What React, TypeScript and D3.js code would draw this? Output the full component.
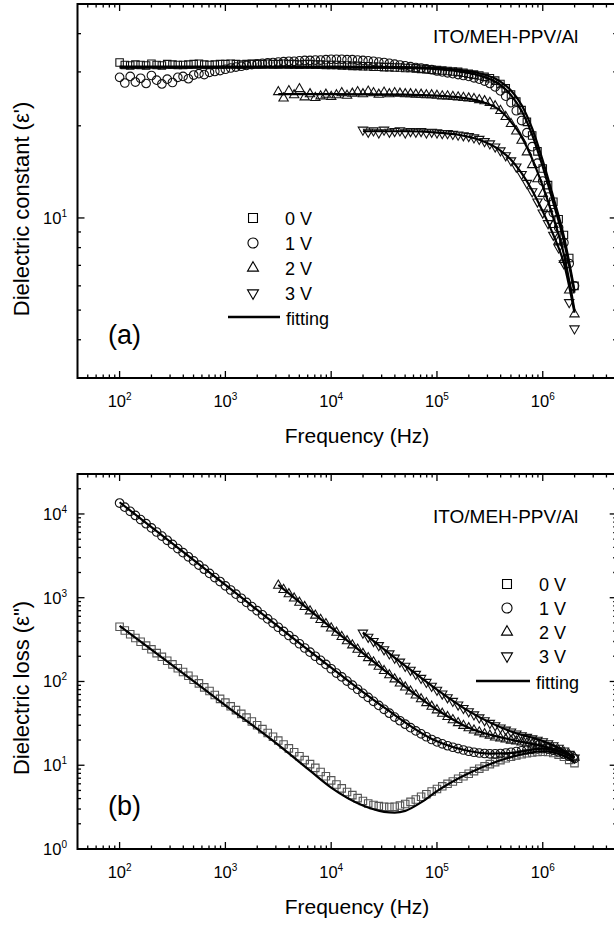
import React from 'react'
import * as d3 from 'd3'

// measurement frequencies (Hz), 20 points per decade
const freq = [
  100, 112, 126, 141, 158, 178, 200, 224, 251, 282, 316, 355, 398, 447, 501, 562, 631, 708, 794, 891,
  1000, 1122, 1259, 1413, 1585, 1778, 1995, 2239, 2512, 2818, 3162, 3548, 3981, 4467, 5012, 5623, 6310, 7079, 7943, 8913,
  10000, 11220, 12589, 14125, 15849, 17783, 19953, 22387, 25119, 28184, 31623, 35481, 39811, 44668, 50119, 56234, 63096, 70795, 79433, 89125,
  100000, 112202, 125893, 141254, 158489, 177828, 199526, 223872, 251189, 281838, 316228, 354813, 398107, 446684, 501187, 562341, 630957, 707946, 794328, 891251,
  1000000, 1122018, 1258925, 1412538, 1584893, 1778279, 1995262,
]
// 2 V data starts at freq[30], 3 V data at freq[46]
const start2V = 30
const start3V = 46

// (a) dielectric constant
const real0V = [
  32.2, 31.6, 31.5, 31.7, 31.6, 31.5, 31.9, 31.6, 31.5, 31.8, 31.7, 31.6, 31.6, 31.7, 31.8, 31.9, 31.7, 31.6, 31.7, 31.8,
  31.8, 31.9, 31.8, 31.7, 31.8, 31.9, 31.8, 31.8, 31.9, 31.8, 31.8, 31.9, 31.8, 31.8, 31.7, 31.8, 31.8, 31.7, 31.7, 31.6,
  31.6, 31.6, 31.5, 31.5, 31.4, 31.4, 31.3, 31.3, 31.2, 31.2, 31.1, 31.1, 31.0, 31.0, 30.9, 30.9, 30.8, 30.7, 30.6, 30.5,
  30.4, 30.3, 30.2, 30.1, 30.0, 29.8, 29.6, 29.4, 29.2, 28.9, 28.6, 28.1, 27.4, 26.5, 25.3, 24.0, 22.5, 20.6, 18.6, 16.5,
  14.5, 12.8, 11.3, 9.9, 8.8, 7.4, 6.0,
]
const real1V = [
  28.8, 27.6, 29.0, 27.8, 28.6, 27.5, 29.2, 28.2, 27.4, 28.4, 27.7, 28.8, 29.0, 28.5, 29.3, 29.6, 29.4, 29.9, 30.1, 30.3,
  30.6, 30.9, 31.1, 31.3, 31.5, 31.7, 31.9, 32.0, 32.1, 32.2, 32.3, 32.4, 32.5, 32.5, 32.6, 32.7, 32.7, 32.8, 32.8, 32.9,
  33.0, 33.0, 33.0, 32.9, 32.9, 32.8, 32.7, 32.6, 32.5, 32.3, 32.2, 32.0, 31.8, 31.6, 31.4, 31.2, 31.0, 30.9, 30.7, 30.5,
  30.2, 30.0, 29.8, 29.6, 29.4, 29.2, 29.0, 28.7, 28.4, 28.0, 27.5, 26.8, 26.0, 25.0, 23.8, 22.4, 20.8, 19.0, 17.1, 15.1,
  13.2, 11.7, 10.4, 9.3, 8.3, 7.1, 6.0,
]
const real2V = [
  25.8, 24.6, 26.0, 25.2, 26.4, 24.8, 25.4, 24.7, 25.0, 25.3,
  24.9, 25.2, 25.6, 25.1, 25.5, 25.8, 25.4, 25.9, 25.6, 25.3, 25.7, 25.4, 25.6, 25.5, 25.4, 25.4, 25.3, 25.3, 25.2, 25.2,
  25.1, 25.0, 25.0, 24.9, 24.8, 24.7, 24.6, 24.5, 24.3, 24.1, 23.8, 23.2, 22.4, 21.4, 20.3, 19.2, 17.9, 16.4, 14.9, 13.4,
  12.0, 10.7, 9.5, 8.4, 7.3, 5.8, 4.85,
]
const real3V = [
  19.4, 19.1, 19.3, 19.0, 19.4, 19.1, 19.2, 19.3, 19.0, 19.2, 19.1, 19.2, 19.0, 19.1,
  19.0, 18.9, 18.9, 18.8, 18.7, 18.6, 18.5, 18.3, 18.1, 17.8, 17.5, 17.1, 16.6, 16.0, 15.4, 14.7, 13.9, 13.0, 12.2, 11.3,
  10.4, 9.6, 8.8, 8.0, 7.1, 5.3, 4.35,
]

// (b) dielectric loss
const loss0V = [
  450, 406, 366, 330, 298, 268, 242, 218, 197, 177, 160, 144, 130, 117, 105, 95, 85, 77, 69, 62,
  56, 50.5, 45.5, 41, 37, 33.3, 30, 27, 24.3, 21.9, 19.7, 17.7, 15.9, 14.3, 12.8, 11.5, 10.3, 9.3, 8.3, 7.4,
  6.6, 5.9, 5.3, 4.8, 4.4, 4.05, 3.75, 3.5, 3.35, 3.25, 3.2, 3.18, 3.2, 3.3, 3.45, 3.65, 3.9, 4.2, 4.5, 4.85,
  5.2, 5.6, 6.0, 6.4, 6.9, 7.4, 7.9, 8.5, 9.1, 9.7, 10.3, 10.9, 11.5, 12.1, 12.6, 13.1, 13.5, 13.9, 14.2, 14.4,
  14.5, 14.4, 14.0, 13.4, 12.6, 11.6, 10.6,
]
const loss1V = [
  13500, 12050, 10750, 9600, 8570, 7650, 6820, 6090, 5440, 4850, 4330, 3860, 3450, 3080, 2750, 2450, 2190, 1950, 1740, 1560,
  1385, 1236, 1103, 985, 879, 784, 700, 625, 558, 498, 444, 396, 354, 316, 282, 251, 224, 200, 179, 160,
  142, 126, 113.5, 101, 90.4, 80.8, 72.2, 64.6, 57.9, 51.8, 46.5, 41.8, 37.6, 34.0, 30.9, 28.1, 25.7, 23.7, 21.9, 20.3,
  19.0, 18.0, 17.1, 16.4, 15.8, 15.2, 14.7, 14.3, 14.0, 13.8, 13.7, 13.7, 13.8, 14.0, 14.3, 14.6, 14.9, 15.2, 15.5, 15.7,
  15.8, 15.6, 15.1, 14.4, 13.6, 12.8, 12.0,
]
const loss2V = [
  1400, 1245, 1107, 984, 875, 778, 691, 615, 546, 486,
  432, 384, 341, 304, 271, 241, 214, 191, 170, 151, 134, 119.3, 106.5, 95.3, 85.2, 76.3, 68.5, 61.6, 55.5, 50.2,
  45.5, 41.4, 37.8, 34.7, 32.0, 29.7, 27.8, 26.1, 24.8, 23.6, 22.7, 21.6, 21.0, 20.4, 19.8, 19.3, 18.8, 18.3, 17.8, 17.3,
  16.8, 16.3, 15.7, 15.0, 14.2, 13.3, 12.4,
]
const loss3V = [
  381, 339.8, 302.8, 270, 241, 215.2, 191.4, 171.6, 153, 137.2, 122.5, 109.8, 98.3, 88.3,
  79.3, 71.4, 64.4, 58.3, 52.8, 48.0, 43.9, 40.3, 37.1, 34.3, 31.9, 29.9, 28.1, 26.5, 25.1, 23.8, 22.7, 21.7, 20.8, 20.0,
  19.2, 18.2, 17.2, 16.1, 14.9, 13.6, 12.3,
]

// fitting curves
const fitFreqA01 = [100, 1000, 10000, 50000, 100000, 158489, 251189, 398107, 501187, 630957, 794328, 1000000, 1258925, 1584893, 1995262]
const fitReal0V = [31.2, 31.2, 31.2, 31.1, 30.9, 30.5, 29.7, 27.9, 26.1, 23.4, 19.6, 15.4, 11.7, 8.7, 5.8]
const fitReal1V = [31.0, 31.0, 31.0, 30.9, 30.6, 30.1, 29.2, 27.2, 25.2, 22.4, 18.7, 14.7, 11.2, 8.4, 5.7]
const fitFreqA2 = [3162, 10000, 50000, 100000, 158489, 251189, 398107, 501187, 630957, 794328, 1000000, 1258925, 1584893, 1995262]
const fitReal2V = [25.4, 25.4, 25.3, 25.1, 24.8, 24.1, 22.4, 20.6, 18.4, 15.6, 12.7, 10.0, 7.6, 5.0]
const fitFreqA3 = [19953, 50000, 100000, 158489, 251189, 398107, 501187, 630957, 794328, 1000000, 1258925, 1584893, 1995262]
const fitReal3V = [19.2, 19.2, 19.0, 18.7, 18.0, 16.6, 15.5, 14.0, 12.3, 10.5, 8.8, 7.1, 4.9]

const fitFreqB0 = [100, 316, 1000, 3162, 6310, 10000, 19953, 31623, 39811, 50119, 70795, 100000, 199526, 501187, 1000000, 1496236, 1995262]
const fitLoss0V = [460, 156, 52, 17.5, 8.6, 5.4, 3.3, 2.78, 2.72, 2.85, 3.6, 4.9, 8.0, 12.5, 14.7, 13.3, 11.0]
const fitFreqB1 = [100, 1000, 10000, 31623, 100000, 199526, 316228, 501187, 1000000, 1496236, 1995262]
const fitLoss1V = [13800, 1420, 146, 49, 19.3, 14.8, 13.8, 14.0, 15.8, 14.3, 12.1]
const fitFreqB2 = [3162, 10000, 31623, 100000, 199526, 501187, 1000000, 1496236, 1995262]
const fitLoss2V = [1420, 440, 137, 46, 28, 20.2, 16.9, 14.8, 12.5]
const fitFreqB3 = [19953, 50119, 100000, 199526, 501187, 1000000, 1496236, 1995262]
const fitLoss3V = [385, 154, 80, 44.3, 25.3, 19.4, 15.5, 12.4]

const legendLabels = ['0 V', '1 V', '2 V', '3 V']
const xLabelExps = [2, 3, 4, 5, 6]

const FONT = 'Liberation Sans, Arial, Helvetica, sans-serif'
const plotLeft = 77.5
const plotRight = 616.7

const x = d3.scaleLog().domain([40, 5e6]).range([plotLeft, plotRight])

const markerTypes = [d3.symbolSquare, d3.symbolCircle, d3.symbolTriangle, d3.symbolTriangle]
const markerSizes = [56, 58, 38, 38]
const legendSizes = [80, 80, 52, 52]

function logTicks(lo, hi) {
  const out = []
  for (let e = Math.floor(Math.log10(lo)); e <= Math.ceil(Math.log10(hi)); e++) {
    for (let m = 1; m <= 9; m++) {
      const v = m * Math.pow(10, e)
      if (v > lo * 1.0001 && v < hi / 1.0001) out.push({ v, major: m === 1 })
    }
  }
  return out
}

function Marker({ cx, cy, i, size, stroke }) {
  const d = d3.symbol().type(markerTypes[i]).size(size)()
  const rot = i === 3 ? ' rotate(180)' : ''
  return <path d={d} transform={`translate(${cx},${cy})${rot}`} fill="none" stroke={stroke} strokeWidth={1.1} />
}

function Panel({ top, bottom, yDomain, yLabelExps, yTitle, yTitleY, tag, tagY, textY, data, fits, legend, markerStroke }) {
  const y = d3.scaleLog().domain(yDomain).range([bottom, top])
  const line = d3.line().x(d => x(d[0])).y(d => y(d[1])).curve(d3.curveMonotoneX)
  const xt = logTicks(40, 5e6)
  const yt = logTicks(yDomain[0], yDomain[1])
  return (
    <g>
      {/* data points */}
      {data.map((s, i) => (
        <g key={i}>
          {s.vals.map((v, j) => (
            <Marker key={j} cx={x(freq[s.start + j])} cy={y(v)} i={i} size={markerSizes[i]} stroke={markerStroke[i]} />
          ))}
        </g>
      ))}
      {/* fitting lines */}
      {fits.map((f, i) => (
        <path key={i} d={line(f.fr.map((fr, j) => [fr, f.vals[j]]))} fill="none" stroke="#000" strokeWidth={2.2} />
      ))}
      {/* frame */}
      <rect x={plotLeft} y={top} width={plotRight - plotLeft} height={bottom - top} fill="none" stroke="#000" strokeWidth={2} />
      {xt.map((t, i) => {
        const len = t.major ? 7 : 3.5
        return (
          <g key={i} stroke="#000" strokeWidth={1.3}>
            <line x1={x(t.v)} x2={x(t.v)} y1={bottom} y2={bottom - len} />
            <line x1={x(t.v)} x2={x(t.v)} y1={top} y2={top + len} />
          </g>
        )
      })}
      {yt.map((t, i) => {
        const len = t.major ? 7 : 3.5
        return (
          <g key={i} stroke="#000" strokeWidth={1.3}>
            <line x1={plotLeft} x2={plotLeft + len} y1={y(t.v)} y2={y(t.v)} />
            <line x1={plotRight} x2={plotRight - len} y1={y(t.v)} y2={y(t.v)} />
          </g>
        )
      })}
      {/* tick labels */}
      {xLabelExps.map(e => (
        <text key={e} x={x(Math.pow(10, e))} y={bottom + 29} textAnchor="middle" fontFamily={FONT} fontSize={16.5}>
          10<tspan dy={-7} fontSize={10}>{e}</tspan>
        </text>
      ))}
      {yLabelExps.map(e => (
        <text key={e} x={67} y={y(Math.pow(10, e)) + 6} textAnchor="end" fontFamily={FONT} fontSize={16.5}>
          10<tspan dy={-7} fontSize={10}>{e}</tspan>
        </text>
      ))}
      {/* titles */}
      <text x={357} y={bottom + 65} textAnchor="middle" fontFamily={FONT} fontSize={21}>Frequency (Hz)</text>
      <text transform={`translate(29,${yTitleY}) rotate(-90)`} textAnchor="middle" fontFamily={FONT} fontSize={22}>{yTitle}</text>
      <text x={433} y={textY} fontFamily={FONT} fontSize={19}>ITO/MEH-PPV/Al</text>
      <text x={108} y={tagY} fontFamily={FONT} fontSize={27}>{tag}</text>
      {/* legend */}
      {legendLabels.map((l, i) => (
        <g key={l}>
          <Marker cx={legend.symX} cy={legend.rows[i]} i={i} size={legendSizes[i]} stroke="#000" />
          <text x={legend.textX} y={legend.rows[i] + 7} fontFamily={FONT} fontSize={18}>{l}</text>
        </g>
      ))}
      <line x1={legend.lineX1} x2={legend.lineX2} y1={legend.fitY} y2={legend.fitY} stroke="#000" strokeWidth={2.5} />
      <text x={legend.lineX2 + 6} y={legend.fitY + 8} fontFamily={FONT} fontSize={18}>fitting</text>
    </g>
  )
}

export default function App() {
  return (
    <svg width={614} height={925} style={{ position: 'absolute', left: 0, top: 0, background: '#fff' }}>
      <rect width={614} height={925} fill="#fff" />
      <Panel
        top={4}
        bottom={378}
        yDomain={[3, 50]}
        yLabelExps={[1]}
        yTitle="Dielectric constant (ε')"
        yTitleY={209}
        tag="(a)"
        tagY={344}
        textY={43}
        markerStroke={['#111', '#111', '#111', '#111']}
        data={[
          { start: 0, vals: real0V },
          { start: 0, vals: real1V },
          { start: start2V, vals: real2V },
          { start: start3V, vals: real3V },
        ]}
        fits={[
          { fr: fitFreqA01, vals: fitReal0V },
          { fr: fitFreqA01, vals: fitReal1V },
          { fr: fitFreqA2, vals: fitReal2V },
          { fr: fitFreqA3, vals: fitReal3V },
        ]}
        legend={{ symX: 253, textX: 285, rows: [218, 243, 268, 293], fitY: 317, lineX1: 228, lineX2: 280 }}
      />
      <Panel
        top={474}
        bottom={849}
        yDomain={[1, 30000]}
        yLabelExps={[0, 1, 2, 3, 4]}
        yTitle={'Dielectric loss (ε")'}
        yTitleY={688}
        tag="(b)"
        tagY={815}
        textY={523}
        markerStroke={['#555', '#111', '#111', '#111']}
        data={[
          { start: 0, vals: loss0V },
          { start: 0, vals: loss1V },
          { start: start2V, vals: loss2V },
          { start: start3V, vals: loss3V },
        ]}
        fits={[
          { fr: fitFreqB0, vals: fitLoss0V },
          { fr: fitFreqB1, vals: fitLoss1V },
          { fr: fitFreqB2, vals: fitLoss2V },
          { fr: fitFreqB3, vals: fitLoss3V },
        ]}
        legend={{ symX: 507, textX: 539, rows: [584, 608, 632, 656], fitY: 681, lineX1: 476, lineX2: 530 }}
      />
    </svg>
  )
}
